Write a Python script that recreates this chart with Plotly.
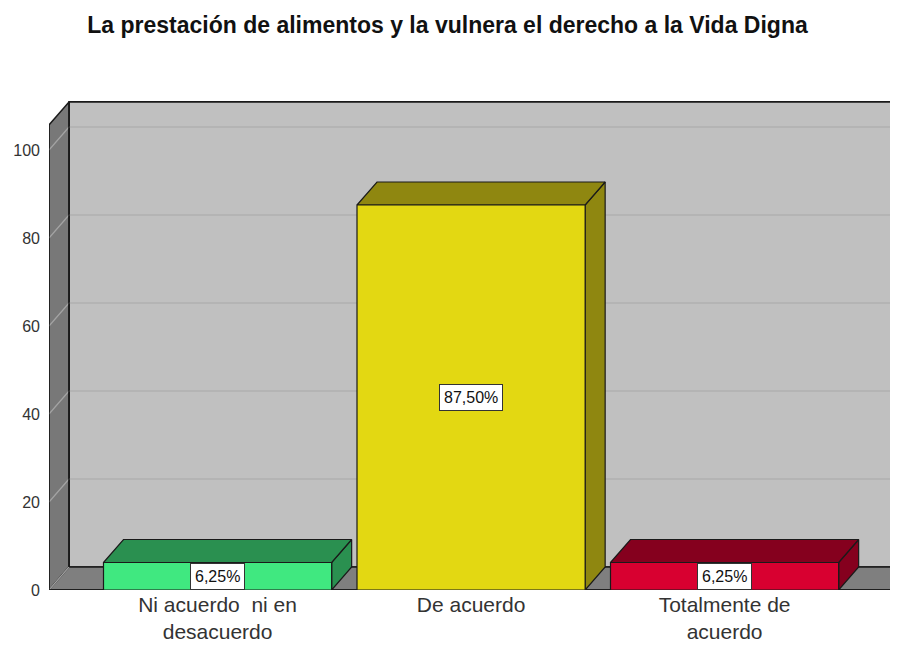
import plotly.graph_objects as go

# ---- data ----
categories = ["Ni acuerdo  ni en<br>desacuerdo", "De acuerdo", "Totalmente de<br>acuerdo"]
values = [6.25, 87.5, 6.25]
value_labels = ["6,25%", "87,50%", "6,25%"]
front_colors = ["#40e880", "#e3d812", "#d80030"]
shade_colors = ["#2a9050", "#8f8710", "#85001e"]
y_ticks = [0, 20, 40, 60, 80, 100]

# ---- pseudo-3D geometry (in data units) ----
PX_PER_CAT = 253.5
PX_PER_VAL = 4.4
DX = 20 / PX_PER_CAT        # depth offset along x
DY = 23 / PX_PER_VAL        # depth offset along y
BAR_W = 0.9
X0 = -0.665                 # front left corner of the frame
X1 = 2.665                  # front right corner of the floor
WALL_TOP = 105.7
X_RANGE = [X0, X0 + 849 / PX_PER_CAT]
Y_RANGE = [0, 500 / PX_PER_VAL]
FAR = X_RANGE[1] + 0.3

FONT = "Liberation Sans, Arial"

fig = go.Figure()


def poly(xs, ys, fill, line="#1a1a1a", width=1.2):
    fig.add_trace(go.Scatter(
        x=list(xs) + [xs[0]], y=list(ys) + [ys[0]], mode="lines", fill="toself",
        fillcolor=fill, line=dict(color=line, width=width), hoverinfo="skip",
        showlegend=False))


def seg(xs, ys, color, width=1.2):
    fig.add_trace(go.Scatter(x=xs, y=ys, mode="lines", line=dict(color=color, width=width),
                             hoverinfo="skip", showlegend=False))


# back wall
poly([X0 + DX, FAR, FAR, X0 + DX], [DY, DY, WALL_TOP + DY, WALL_TOP + DY], "#c0c0c0", width=1.6)
# left wall
poly([X0, X0 + DX, X0 + DX, X0], [0, DY, WALL_TOP + DY, WALL_TOP], "#787878", width=1.4)
# floor
poly([X0, X1, X1 + DX, X0 + DX], [0, 0, DY, DY], "#7f7f7f", width=1.4)

# grid lines
for v in y_ticks:
    if v > 0:
        seg([X0 + DX, FAR], [v + DY, v + DY], "#b0b0b0", 1.5)
    seg([X0, X0 + DX], [v, v + DY], "#a4a4a4", 1.2)

# redraw frame edges over grid
seg([X0 + DX, X0 + DX], [DY, WALL_TOP + DY], "#1a1a1a", 1.6)
seg([X0, X0], [0, WALL_TOP], "#1a1a1a", 1.4)
seg([X0, X1 + 0.02], [0, 0], "#1a1a1a", 1.6)

# bars
for i, v in enumerate(values):
    l, r = i - BAR_W / 2, i + BAR_W / 2
    poly([r, r + DX, r + DX, r], [0, DY, v + DY, v], shade_colors[i])
    poly([l, r, r + DX, l + DX], [v, v, v + DY, v + DY], shade_colors[i])
    poly([l, r, r, l], [0, 0, v, v], front_colors[i])
    fig.add_annotation(x=i, y=v / 2, text=value_labels[i], showarrow=False,
                       font=dict(family=FONT, size=16, color="#111"),
                       bgcolor="white", bordercolor="#333", borderwidth=1, borderpad=4)

fig.update_layout(
    width=898, height=647,
    margin=dict(l=41, r=8, t=82, b=65),
    paper_bgcolor="white", plot_bgcolor="white",
    title=dict(text="<b>La prestación de alimentos y la vulnera el derecho a la Vida Digna</b>",
               x=(447.5 - 8) / 898, xref="container", xanchor="center", y=1 - 17 / 647,
               yref="container", yanchor="middle", automargin=False,
               font=dict(family=FONT, size=23, color="#111")),
    xaxis=dict(range=X_RANGE, tickvals=[0, 1, 2], ticktext=categories, showgrid=False,
               zeroline=False, showline=False, ticks="", ticklabelstandoff=0,
               automargin=False,
               tickfont=dict(family=FONT, size=21, color="#333")),
    yaxis=dict(range=Y_RANGE, tickvals=y_ticks, showgrid=False, zeroline=False,
               showline=False, ticks="", ticklabelstandoff=8, automargin=False,
               tickfont=dict(family=FONT, size=16, color="#333")),
    showlegend=False,
)

fig.write_html("out.html")
